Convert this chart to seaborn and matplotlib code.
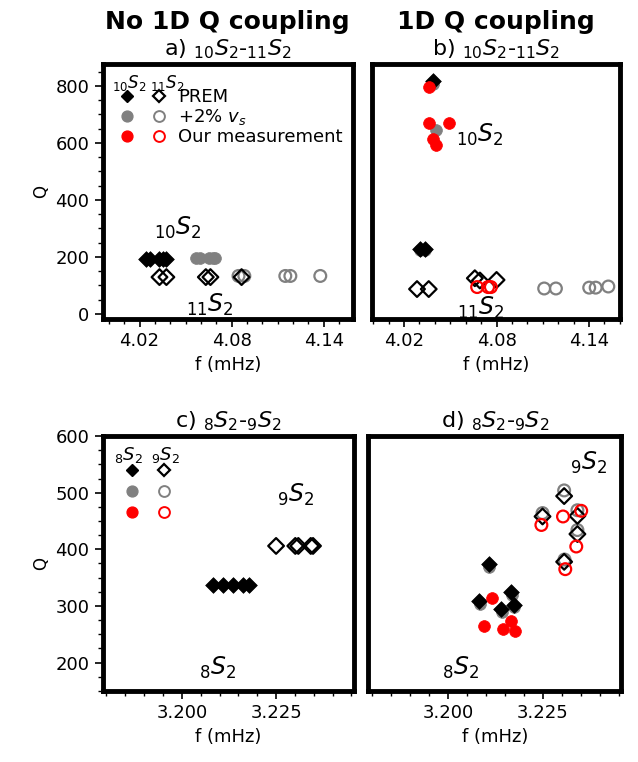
import numpy as np
import pandas as pd
import matplotlib
matplotlib.use("Agg")
import matplotlib.pyplot as plt
import seaborn as sns
from matplotlib.lines import Line2D
from matplotlib.legend_handler import HandlerTuple
from matplotlib.ticker import MultipleLocator

# ---------------- data (f in mHz, Q) ----------------
# panel a: 10S2-11S2, no 1D Q coupling
a_10_prem_f = [4.0245, 4.0265, 4.0325, 4.035, 4.037]
a_10_prem_q = [193, 193, 193, 193, 193]
a_10_v2_f = [4.057, 4.0595, 4.065, 4.068, 4.0695]
a_10_v2_q = [195, 195, 195, 195, 195]
a_11_prem_f = [4.033, 4.0375, 4.0632, 4.0662, 4.0865]
a_11_prem_q = [129, 129, 129, 129, 129]
a_11_v2_f = [4.0845, 4.0883, 4.115, 4.1183, 4.1378]
a_11_v2_q = [133, 133, 133, 133, 133]

# panel b: 10S2-11S2, 1D Q coupling
b_10_prem_f = [4.0385, 4.0302, 4.0333]
b_10_prem_q = [818, 227, 227]
b_10_v2_f = [4.039, 4.041, 4.0305, 4.0335]
b_10_v2_q = [806, 645, 224, 224]
b_10_obs_f = [4.0362, 4.036, 4.0492, 4.0388, 4.041]
b_10_obs_q = [795, 671, 671, 614, 593]
b_11_prem_f = [4.0284, 4.036, 4.0659, 4.0692, 4.0800]
b_11_prem_q = [87, 87, 125, 117, 119]
b_11_v2_f = [4.1109, 4.1185, 4.1401, 4.1443, 4.1525]
b_11_v2_q = [89, 89, 92, 92, 96]
b_11_obs_f = [4.0674, 4.0745, 4.0763]
b_11_obs_q = [94, 94, 94]

# panel c: 8S2-9S2, no 1D Q coupling
c_8_prem_f = [3.2082, 3.2108, 3.2135, 3.2161, 3.2179]
c_8_prem_q = [337, 337, 337, 337, 337]
c_9_prem_f = [3.2250, 3.2301, 3.2309, 3.2342, 3.2348]
c_9_prem_q = [406, 406, 406, 406, 406]

# panel d: 8S2-9S2, 1D Q coupling
d_8_prem_f = [3.2107, 3.2082, 3.2167, 3.2140, 3.2173]
d_8_prem_q = [374, 308, 324, 294, 302]
d_8_v2_f = [3.2109, 3.2085, 3.2169, 3.2142, 3.2175]
d_8_v2_q = [369, 304, 319, 290, 298]
d_8_obs_f = [3.2117, 3.2094, 3.2145, 3.2166, 3.2177]
d_8_obs_q = [314, 265, 260, 274, 256]
d_9_prem_f = [3.2306, 3.2249, 3.2341, 3.2341, 3.2306]
d_9_prem_q = [494, 458, 459, 427, 378]
d_9_v2_f = [3.2306, 3.2249, 3.2341, 3.2341, 3.2307]
d_9_v2_q = [504, 464, 469, 434, 382]
d_9_obs_f = [3.2246, 3.2303, 3.2351, 3.2338, 3.2309]
d_9_obs_q = [443, 458, 468, 405, 365]

legend_labels = ["PREM", "+2% $v_s$", "Our measurement"]

# ---------------- style ----------------
sns.set_theme(style="ticks")
plt.rcParams["font.family"] = ["DejaVu Sans"]
plt.rcParams["mathtext.fontset"] = "dejavusans"
plt.rcParams["text.color"] = "black"
plt.rcParams["axes.labelcolor"] = "black"
plt.rcParams["xtick.color"] = "black"
plt.rcParams["ytick.color"] = "black"

GREY = "#808080"
RED = "#ff0000"
S_C = 72
S_D = 64

fig = plt.figure(figsize=(6.38, 7.62), dpi=100)
ax_a = fig.add_axes([0.161, 0.5814, 0.392, 0.3346])
ax_b = fig.add_axes([0.5826, 0.5814, 0.389, 0.3346])
ax_c = fig.add_axes([0.161, 0.0932, 0.394, 0.3346])
ax_d = fig.add_axes([0.5775, 0.0932, 0.3965, 0.3346])


def pts(ax, f, q, marker, color, filled):
    s = S_D if marker == "D" else S_C
    if filled:
        sns.scatterplot(x=f, y=q, ax=ax, marker=marker, s=s, color=color,
                        edgecolor=color, linewidth=0.5, legend=False)
    else:
        sns.scatterplot(x=f, y=q, ax=ax, marker=marker, s=s, color=color,
                        facecolor="none", edgecolor=color, linewidth=1.6,
                        legend=False)


# panel a
pts(ax_a, a_10_v2_f, a_10_v2_q, "o", GREY, True)
pts(ax_a, a_10_prem_f, a_10_prem_q, "D", "black", True)
pts(ax_a, a_11_v2_f, a_11_v2_q, "o", GREY, False)
pts(ax_a, a_11_prem_f, a_11_prem_q, "D", "black", False)

# panel b
pts(ax_b, b_10_v2_f, b_10_v2_q, "o", GREY, True)
pts(ax_b, b_10_prem_f, b_10_prem_q, "D", "black", True)
pts(ax_b, b_10_obs_f, b_10_obs_q, "o", RED, True)
pts(ax_b, b_11_v2_f, b_11_v2_q, "o", GREY, False)
pts(ax_b, b_11_prem_f, b_11_prem_q, "D", "black", False)
pts(ax_b, b_11_obs_f, b_11_obs_q, "o", RED, False)

# panel c
pts(ax_c, c_8_prem_f, c_8_prem_q, "D", "black", True)
pts(ax_c, c_9_prem_f, c_9_prem_q, "D", "black", False)

# panel d
pts(ax_d, d_8_v2_f, d_8_v2_q, "o", GREY, True)
pts(ax_d, d_8_prem_f, d_8_prem_q, "D", "black", True)
pts(ax_d, d_8_obs_f, d_8_obs_q, "o", RED, True)
pts(ax_d, d_9_v2_f, d_9_v2_q, "o", GREY, False)
pts(ax_d, d_9_prem_f, d_9_prem_q, "D", "black", False)
pts(ax_d, d_9_obs_f, d_9_obs_q, "o", RED, False)

# axes formatting
for ax in (ax_a, ax_b):
    ax.set_ylim(-18, 877)
    ax.set_xticks([4.02, 4.08, 4.14])
    ax.set_xticklabels(["4.02", "4.08", "4.14"])
    ax.xaxis.set_minor_locator(MultipleLocator(0.01))
    ax.yaxis.set_minor_locator(MultipleLocator(50))
ax_a.set_xlim(3.996, 4.159)
ax_b.set_xlim(3.999, 4.160)
ax_a.set_yticks([0, 200, 400, 600, 800])

for ax in (ax_c, ax_d):
    ax.set_ylim(150, 600)
    ax.set_xlim(3.179, 3.2457)
    ax.set_xticks([3.200, 3.225])
    ax.set_xticklabels(["3.200", "3.225"])
    ax.xaxis.set_minor_locator(MultipleLocator(0.005))
    ax.yaxis.set_minor_locator(MultipleLocator(25))
ax_c.set_yticks([200, 300, 400, 500, 600])

for ax in (ax_a, ax_b, ax_c, ax_d):
    for sp in ax.spines.values():
        sp.set_linewidth(3.5)
        sp.set_color("black")
    ax.tick_params(which="major", direction="out", length=6, width=1.2,
                   labelsize=13, color="black", labelcolor="black")
    ax.tick_params(which="minor", direction="out", length=3.5, width=1.0,
                   color="black")
    ax.set_xlabel("f (mHz)", fontsize=13, color="black")
    ax.set_facecolor("white")

for ax in (ax_b, ax_d):
    ax.tick_params(axis="y", which="both", left=False, labelleft=False)
    ax.set_ylabel("")
for ax in (ax_a, ax_c):
    ax.set_ylabel("Q", fontsize=12, labelpad=4, color="black")

# titles
ax_a.set_title(r"a) $_{10}S_2$-$_{11}S_2$", fontsize=16, pad=6, color="black")
ax_b.set_title(r"b) $_{10}S_2$-$_{11}S_2$", fontsize=16, pad=6, color="black")
ax_c.set_title(r"c) $_{8}S_2$-$_{9}S_2$", fontsize=16, pad=6, color="black")
ax_d.set_title(r"d) $_{8}S_2$-$_{9}S_2$", fontsize=16, pad=6, color="black")
ax_a.text(0.5, 1.165, "No 1D Q coupling", transform=ax_a.transAxes,
          ha="center", va="center", fontsize=18, fontweight="bold", color="black")
ax_b.text(0.5, 1.165, "1D Q coupling", transform=ax_b.transAxes,
          ha="center", va="center", fontsize=18, fontweight="bold", color="black")

# mode annotations
ANN = 17
ax_a.text(4.045, 302, r"$_{10}S_2$", fontsize=ANN, ha="center", va="center")
ax_a.text(4.066, 32, r"$_{11}S_2$", fontsize=ANN, ha="center", va="center")
ax_b.text(4.069, 628, r"$_{10}S_2$", fontsize=ANN, ha="center", va="center")
ax_b.text(4.070, 20, r"$_{11}S_2$", fontsize=ANN, ha="center", va="center")
ax_c.text(3.2303, 496, r"$_{9}S_2$", fontsize=ANN, ha="center", va="center")
ax_c.text(3.2096, 190, r"$_{8}S_2$", fontsize=ANN, ha="center", va="center")
ax_d.text(3.237, 552, r"$_{9}S_2$", fontsize=ANN, ha="center", va="center")
ax_d.text(3.2032, 190, r"$_{8}S_2$", fontsize=ANN, ha="center", va="center")


# legends
def handles():
    ms_c = 7.8
    ms_d = 6.0
    h = []
    h.append((Line2D([], [], ls="", marker="D", ms=ms_d, color="black"),
              Line2D([], [], ls="", marker="D", ms=ms_d, mfc="none",
                     mec="black", mew=1.6)))
    h.append((Line2D([], [], ls="", marker="o", ms=ms_c, color=GREY),
              Line2D([], [], ls="", marker="o", ms=ms_c, mfc="none",
                     mec=GREY, mew=1.4)))
    h.append((Line2D([], [], ls="", marker="o", ms=ms_c, color=RED),
              Line2D([], [], ls="", marker="o", ms=ms_c, mfc="none",
                     mec=RED, mew=1.4)))
    return h


ax_a.legend(handles(), legend_labels, loc="upper left",
            bbox_to_anchor=(0.035, 0.905), frameon=False, fontsize=13,
            handlelength=3.5, handletextpad=0.2, borderpad=0,
            borderaxespad=0, labelspacing=0.05,
            handler_map={tuple: HandlerTuple(ndivide=None, pad=0)})
ax_c.legend(handles(), ["", "", ""], loc="upper left",
            bbox_to_anchor=(0.055, 0.895), frameon=False, fontsize=13,
            handlelength=3.5, handletextpad=0.0, borderpad=0,
            borderaxespad=0, labelspacing=0.15,
            handler_map={tuple: HandlerTuple(ndivide=None, pad=0)})

ax_a.text(0.106, 0.925, r"$_{10}S_2$", transform=ax_a.transAxes,
          ha="center", va="center", fontsize=12)
ax_a.text(0.256, 0.925, r"$_{11}S_2$", transform=ax_a.transAxes,
          ha="center", va="center", fontsize=12)
ax_c.text(0.104, 0.925, r"$_{8}S_2$", transform=ax_c.transAxes,
          ha="center", va="center", fontsize=13)
ax_c.text(0.249, 0.925, r"$_{9}S_2$", transform=ax_c.transAxes,
          ha="center", va="center", fontsize=13)

fig.savefig("out.png", dpi=100, facecolor="white")
